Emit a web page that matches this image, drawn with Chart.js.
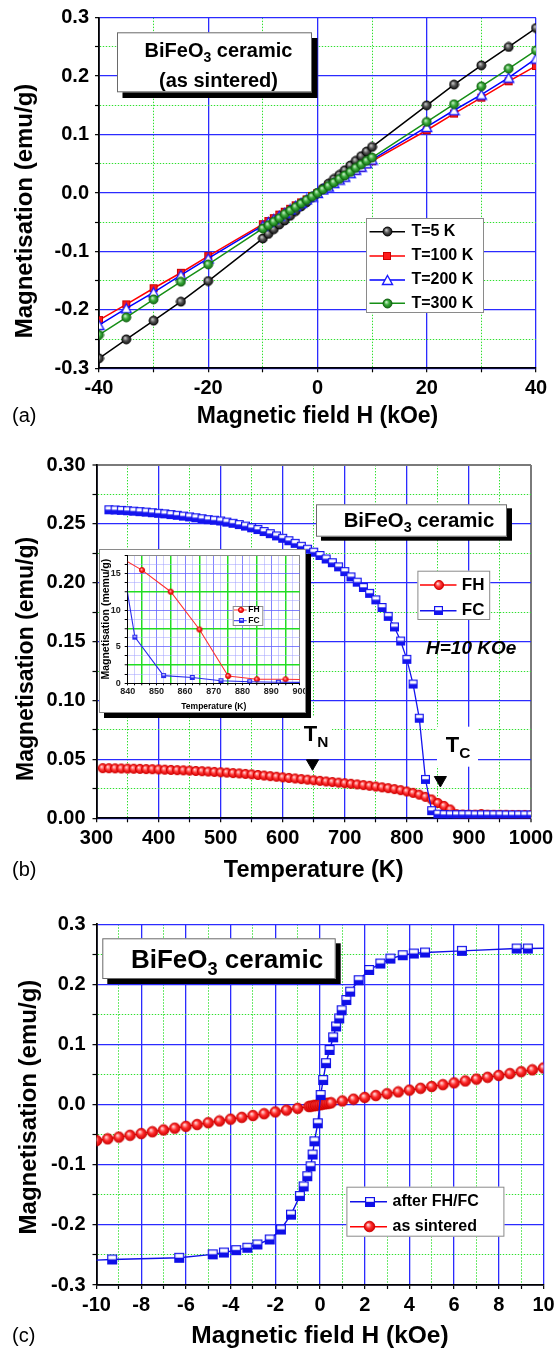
<!DOCTYPE html>
<html><head><meta charset="utf-8"><title>BiFeO3 magnetisation</title>
<script src="https://cdn.jsdelivr.net/npm/chart.js@4.4.1/dist/chart.umd.min.js"></script>
<style>
html,body{margin:0;padding:0;background:#fff;}
#page{position:relative;width:557px;height:1352px;overflow:hidden;background:#fff;}
#page canvas{position:absolute;left:0;}
#inset{position:absolute;left:99px;top:549px;width:207px;height:164px;background:#fff;border:1px solid #8a8a8a;box-sizing:border-box;box-shadow:5px 5px 0 #000;}
#inset canvas{position:absolute;left:0;top:0;}
</style></head><body>
<div id="page">
 <canvas id="chartA" width="557" height="450" style="top:0px"></canvas>
 <canvas id="chartB" width="557" height="450" style="top:450px"></canvas>
 <canvas id="chartC" width="557" height="452" style="top:900px"></canvas>
 <div id="inset"><canvas id="chartI" width="205" height="162"></canvas></div>
</div>
<script>
// ===================== DATA =====================
// Panel (a): M(H) of as-sintered ceramic at four temperatures
const fieldA = [-40,-35,-30,-25,-20,-10,-9,-8,-7,-6,-5,-4,-3,-2,-1,0,1,2,3,4,5,6,7,8,9,10,20,25,30,35,40];
const magA_5K   = [-0.283,-0.2504,-0.2185,-0.186,-0.1507,-0.0778,-0.070,-0.062,-0.054,-0.047,-0.039,-0.031,-0.023,-0.016,-0.008,0.000,0.008,0.016,0.024,0.031,0.039,0.047,0.055,0.063,0.071,0.0789,0.150,0.1855,0.2185,0.2499,0.2823];
const magA_100K = [-0.2174,-0.1906,-0.163,-0.1365,-0.108,-0.0533,-0.048,-0.043,-0.037,-0.032,-0.027,-0.021,-0.016,-0.011,-0.005,0.000,0.005,0.011,0.016,0.022,0.027,0.033,0.038,0.043,0.049,0.0544,0.1074,0.1359,0.1632,0.1912,0.2174];
const magA_200K = [-0.226,-0.1974,-0.170,-0.1404,-0.112,-0.0560,-0.050,-0.045,-0.039,-0.034,-0.028,-0.022,-0.017,-0.011,-0.006,0.000,0.006,0.011,0.017,0.023,0.028,0.034,0.040,0.045,0.051,0.0573,0.113,0.1416,0.1684,0.1974,0.230];
const magA_300K = [-0.243,-0.2128,-0.182,-0.1518,-0.1222,-0.0607,-0.055,-0.049,-0.043,-0.036,-0.030,-0.024,-0.018,-0.012,-0.006,0.000,0.006,0.012,0.018,0.024,0.030,0.036,0.043,0.049,0.055,0.0607,0.1217,0.1519,0.1826,0.2128,0.244];
const seriesA = ['T=5 K','T=100 K','T=200 K','T=300 K'];

// Panel (b): M(T) at H = 10 kOe
const tempFC = [320,330,340,350,360,370,380,390,400,410,420,430,440,450,460,470,480,490,500,510,520,530,540,550,560,570,580,590,600,610,620,630,640,650,660,670,680,690,700,710,720,730,740,750,760,770,780,790,800,810,820,830,840,850,860,870,880,890,900,910,920,930,940,950,960,970,980,990,1000];
const magFC = [0.2620,0.2618,0.2615,0.2612,0.2608,0.2604,0.2600,0.2595,0.2590,0.2585,0.2579,0.2573,0.2566,0.2559,0.2552,0.2544,0.2536,0.2531,0.2525,0.2515,0.2505,0.2494,0.2481,0.2467,0.2452,0.2435,0.2417,0.2398,
  0.2378,0.2357,0.2335,0.2310,0.2285,0.2260,0.2232,0.2202,0.2170,0.2135,0.2095,0.2050,0.2005,0.1960,0.1910,0.1855,0.1790,0.1715,0.1625,0.1505,0.1350,0.1140,0.0850,0.0330,0.0065,
  0.0035,0.0031,0.0030,0.0030,0.0030,0.0030,0.0029,0.0029,0.0029,0.0029,0.0029,0.0028,0.0028,0.0028,0.0028,0.0028];
const tempFH = [310,320,330,340,350,360,370,380,390,400,410,420,430,440,450,460,470,480,490,500,510,520,530,540,550,560,570,580,590,600,610,620,630,640,650,660,670,680,690,700,710,720,730,740,750,760,770,780,790,800,810,820,830,840,850,860,870,880,890,900,910,920,930,940,950,960,970,980,990,1000];
const magFH = [0.0426,0.0425,0.0424,0.0423,0.0422,0.0421,0.0420,0.0418,0.0417,0.0415,
  0.0413,0.0411,0.0409,0.0407,0.0405,0.0402,0.0400,0.0397,0.0394,0.0391,
  0.0388,0.0384,0.0381,0.0377,0.0373,0.0368,0.0363,0.0358,0.0353,0.0348,
  0.0343,0.0338,0.0333,0.0328,0.0323,0.0318,0.0313,0.0308,0.0303,0.0298,
  0.0293,0.0288,0.0282,0.0276,0.0270,0.0263,0.0256,0.0248,0.0239,0.0228,
  0.0216,0.0201,0.0182,0.0160,0.0130,0.0105,0.0075,
  0.0035,0.0032,0.0031,0.0031,0.0036,0.0031,0.0030,0.0030,0.0030,0.0029,0.0029,0.0029,0.0028];
const markTemp = [648, 854];          // T_N and T_C arrows
const markMag  = [0.0467, 0.0325];

// Inset of (b): magnetisation in memu/g near T_C
const insetTempFH = [835,845,855,865,875,885,895,905];
const insetFH     = [17.7,15.45,12.5,7.35,1.0,0.55,0.55,0.5];
const insetTempFC = [832.5,842.5,852.5,862.5,872.5,882.5,892.5,902.5];
const insetFC     = [29.9,6.3,1.05,0.8,0.35,0.22,0.15,0.12];

// Panel (c): M(H) after FH/FC and as sintered
const fieldLoop = [-11,-9.3,-6.3,-4.8,-4.3,-3.75,-3.25,-2.8,-2.25,-1.75,-1.3,-0.9,-0.73,-0.57,-0.42,-0.33,-0.25,-0.1,0.03,0.14,0.27,0.43,0.59,0.72,0.86,0.97,1.18,1.35,1.73,2.2,2.7,3.15,3.7,4.2,4.7,6.35,8.8,9.3,11];
const magLoop   = [-0.2600,-0.2575,-0.2547,-0.249,-0.246,-0.242,-0.238,-0.2326,-0.2243,-0.2077,-0.183,-0.152,-0.136,-0.119,-0.1025,-0.083,-0.061,-0.031,0.016,0.041,0.069,0.091,0.112,0.130,0.1435,0.157,0.174,0.188,0.207,0.224,0.2347,0.243,0.2486,0.2514,0.253,0.2558,0.2597,0.2597,0.2605];
const fieldSint = [-10,-9.5,-9,-8.5,-8,-7.5,-7,-6.5,-6,-5.5,-5,-4.5,-4,-3.5,-3,-2.5,-2,-1.5,-1,-0.5,-0.4,-0.3,-0.2,-0.1,0,0.1,0.2,0.3,0.4,0.5,1,1.5,2,2.5,3,3.5,4,4.5,5,5.5,6,6.5,7,7.5,8,8.5,9,9.5,10];
const magSint   = [-0.0598,-0.0569,-0.0540,-0.0510,-0.0481,-0.0451,-0.0421,-0.0391,-0.0361,-0.0331,-0.0301,-0.0271,-0.0241,-0.0211,-0.0181,-0.0151,-0.0121,-0.0091,-0.0061,-0.0031,
  -0.0025,-0.0019,-0.0013,-0.0007,0.0000,0.0007,0.0013,0.0019,0.0025,
  0.0031,0.0061,0.0091,0.0121,0.0152,0.0182,0.0212,0.0242,0.0272,0.0302,0.0333,0.0363,0.0394,0.0425,0.0455,0.0486,0.0517,0.0548,0.0579,0.0610];

// Tick labels
const ticksAx = [-40,-20,0,20,40];
const ticksAy = [-0.3,-0.2,-0.1,0,0.1,0.2,0.3];
const ticksBx = [300,400,500,600,700,800,900,1000];
const ticksBy = [0,0.05,0.10,0.15,0.20,0.25,0.30];
const ticksCx = [-10,-8,-6,-4,-2,0,2,4,6,8,10];
const ticksCy = [-0.3,-0.2,-0.1,0,0.1,0.2,0.3];
const ticksIx = [840,850,860,870,880,890,900];
const ticksIy = [0,5,10,15];

// ===================== HELPERS =====================
const FONT = '"Liberation Sans", Arial, Helvetica, sans-serif';
const BLUE = '#2b2bff', GREEN = '#2fe02f';
Chart.defaults.font.family = FONT;
Chart.defaults.color = '#000';

const near = (a, b) => Math.abs(a - b) < 1e-7;
const inList = (l, v) => l.some(t => near(t, v));
const pts = (xs, ys) => xs.map((x, i) => ({x, y: ys[i]}));

function cv(w, h) { const c = document.createElement('canvas'); c.width = w; c.height = h; return c; }
function ball(r, light, base, dark, stroke) {
  const s = Math.ceil(2 * r) + 2, c = cv(s, s), g = c.getContext('2d'), m = s / 2;
  const gr = g.createRadialGradient(m - r * 0.3, m - r * 0.35, r * 0.05, m, m, r);
  gr.addColorStop(0, light); gr.addColorStop(0.5, base); gr.addColorStop(1, dark);
  g.fillStyle = gr; g.beginPath(); g.arc(m, m, r, 0, Math.PI * 2); g.fill();
  if (stroke) { g.strokeStyle = stroke; g.lineWidth = 0.9; g.stroke(); }
  return c;
}
function halfSquare(sz, color) {
  const c = cv(sz + 2, sz + 2), g = c.getContext('2d');
  g.fillStyle = '#fff'; g.fillRect(1, 1, sz, sz);
  g.fillStyle = color; g.fillRect(1, 1 + sz * 0.48, sz, sz * 0.52);
  g.strokeStyle = color; g.lineWidth = 1.2; g.strokeRect(1.6, 1.6, sz - 1.2, sz - 1.2);
  return c;
}
function filledSquare(sz, fill, stroke) {
  const c = cv(sz + 2, sz + 2), g = c.getContext('2d');
  g.fillStyle = fill; g.fillRect(1, 1, sz, sz);
  g.strokeStyle = stroke; g.lineWidth = 1; g.strokeRect(1.5, 1.5, sz - 1, sz - 1);
  return c;
}
function openTriangle(w, h, color) {
  const c = cv(w + 2, h + 2), g = c.getContext('2d');
  g.beginPath(); g.moveTo(1 + w / 2, 1.5); g.lineTo(w + 0.5, h + 0.5); g.lineTo(1.5, h + 0.5); g.closePath();
  g.fillStyle = '#fff'; g.fill(); g.strokeStyle = color; g.lineWidth = 1.4; g.stroke();
  return c;
}

const imgBlack = ball(4.5, '#cfcfcf', '#555', '#111', '#000');
const imgRedSq = filledSquare(8, '#ff1a1a', '#cc0000');
const imgTri   = openTriangle(11, 10, '#1a1aff');
const imgGreen = ball(4.5, '#d0f2d0', '#3aaa3a', '#146d14', '#0d5d0d');
const imgRedB  = ball(4.6, '#ffe0e0', '#ff3a3a', '#d80000', '#d00000');
const imgFCb   = halfSquare(9, '#1414ee');
const imgRedC  = ball(5.3, '#ffe4e4', '#ff2e2e', '#d00000', '#cc0000');
const imgFCc   = halfSquare(10, '#1010e8');
const imgRedI  = ball(2.6, '#ffd8d8', '#ff3030', '#dd0000', '#dd0000');
const imgFCi   = halfSquare(5, '#2a2aee');

function series(xs, ys, color, img, lw, order) {
  return { data: pts(xs, ys), showLine: true, borderColor: color, backgroundColor: color, borderWidth: lw,
    pointStyle: img, pointRadius: img.width / 2, pointHoverRadius: img.width / 2, tension: 0, fill: false, order };
}

function axis(o) {
  const major = v => inList(o.labels, v);
  const isEdge = v => o.edgeColor && near(v, o.max);
  return {
    type: 'linear', position: o.position, min: o.min, max: o.max,
    afterFit: s => { if (o.position === 'left') s.width = o.size; else s.height = o.size;
      s.paddingLeft = 0; s.paddingRight = 0; s.paddingTop = 0; s.paddingBottom = 0; },
    ticks: { stepSize: o.step, autoSkip: false, maxRotation: 0, minRotation: 0, padding: o.tickPad,
      color: o.tickColor || '#000', font: { family: FONT, size: o.tickSize, weight: 'bold' },
      callback: v => major(v) ? o.fmt(v) : '' },
    grid: {
      color: c => { if (!c.tick) return BLUE; const v = c.tick.value; if (isEdge(v)) return o.edgeColor; return o.colorFn ? o.colorFn(v) : (major(v) ? BLUE : GREEN); },
      lineWidth: c => { if (!c.tick) return 1; const v = c.tick.value; if (isEdge(v)) return o.edgeWidth || 2; return o.widthFn ? o.widthFn(v) : (major(v) ? 1.3 : 1); },
      drawTicks: true, tickLength: o.tl, tickColor: '#000', tickWidth: o.tickWidth || 1.2
    },
    border: { display: true, color: '#000', width: o.borderWidth || 1.8,
      dash: c => (o.dotted !== false && c.tick && !major(c.tick.value) && !isEdge(c.tick.value)) ? [1.4, 1.6] : [] },
    title: { display: true, text: o.title, color: '#000', padding: o.titlePad,
      font: { family: FONT, size: o.titleSize, weight: 'bold' } }
  };
}

function richText(ctx, parts, x, y, size, align, style) {
  const f = s => `${style || 'bold'} ${s}px ${FONT}`;
  let w = 0;
  const ws = parts.map(([t, sub]) => { ctx.font = f(sub ? size * 0.7 : size); const m = ctx.measureText(t).width; w += m; return m; });
  let cx = align === 'center' ? x - w / 2 : x;
  ctx.textAlign = 'left'; ctx.textBaseline = 'alphabetic'; ctx.fillStyle = '#000';
  parts.forEach(([t, sub], i) => { ctx.font = f(sub ? size * 0.7 : size); ctx.fillText(t, cx, y + (sub ? size * 0.28 : 0)); cx += ws[i]; });
}
function titleBox(ctx, x, y, w, h, dx, dy) {
  ctx.fillStyle = '#000'; ctx.fillRect(x + dx, y + dy, w, h);
  ctx.fillStyle = '#fff'; ctx.fillRect(x, y, w, h);
  ctx.strokeStyle = '#6a6a6a'; ctx.lineWidth = 1; ctx.strokeRect(x + 0.5, y + 0.5, w - 1, h - 1);
}
function legendBox(ctx, box, entries, o) {
  ctx.fillStyle = '#fff'; ctx.fillRect(box[0], box[1], box[2], box[3]);
  ctx.strokeStyle = '#8a8a8a'; ctx.lineWidth = 1; ctx.strokeRect(box[0] + 0.5, box[1] + 0.5, box[2] - 1, box[3] - 1);
  entries.forEach(e => {
    ctx.strokeStyle = e.color; ctx.lineWidth = o.lw; ctx.beginPath(); ctx.moveTo(o.x1, e.y); ctx.lineTo(o.x2, e.y); ctx.stroke();
    ctx.drawImage(e.img, Math.round(o.mx - e.img.width / 2), Math.round(e.y - e.img.height / 2));
    ctx.fillStyle = '#000'; ctx.font = `bold ${o.size}px ${FONT}`; ctx.textAlign = 'left'; ctx.textBaseline = 'middle';
    ctx.fillText(e.label, o.tx, e.y);
  });
}
function panelLabel(ctx, t, x, y) {
  ctx.fillStyle = '#000'; ctx.font = `20px ${FONT}`; ctx.textAlign = 'left'; ctx.textBaseline = 'middle'; ctx.fillText(t, x, y);
}
const baseOpts = (pad, scales, plugins) => ({
  type: 'scatter',
  options: { responsive: false, maintainAspectRatio: false, animation: false, devicePixelRatio: 1, events: [],
    layout: { padding: pad }, scales,
    plugins: { legend: { display: false }, tooltip: { enabled: false } } },
  plugins
});

// ===================== PANEL (a) =====================
const decorA = { id: 'decorA', afterDraw(chart) {
  const ctx = chart.ctx; ctx.save();
  titleBox(ctx, 117, 32.3, 195, 60, 5.5, 5.7);
  richText(ctx, [['BiFeO', 0], ['3', 1], [' ceramic', 0]], 218.5, 56.5, 20, 'center');
  richText(ctx, [['(as sintered)', 0]], 218.5, 86.6, 20, 'center');
  legendBox(ctx, [366, 218, 118, 95], [
    { y: 231.7, label: seriesA[0], color: '#000', img: imgBlack },
    { y: 256,   label: seriesA[1], color: '#ff0000', img: imgRedSq },
    { y: 280,   label: seriesA[2], color: '#0000ff', img: imgTri },
    { y: 303.3, label: seriesA[3], color: '#168f16', img: imgGreen }
  ], { x1: 369.5, x2: 405, mx: 387, tx: 411.4, size: 16, lw: 1.6 });
  panelLabel(ctx, '(a)', 12, 416.7);
  ctx.restore();
}};
const cfgA = baseOpts({ left: 0, right: 21, top: 17.7, bottom: 0 }, {
  x: axis({ position: 'bottom', min: -40, max: 40, step: 10, labels: ticksAx, fmt: v => String(v), size: 81.7,
    tickPad: 4, tl: 4, tickSize: 20, title: 'Magnetic field H (kOe)', titleSize: 23, titlePad: { top: 0, bottom: 19.5 } }),
  y: axis({ position: 'left', min: -0.3, max: 0.3, step: 0.05, labels: ticksAy, fmt: v => v.toFixed(1), size: 99,
    tickPad: 6, tl: 4, tickSize: 20, title: 'Magnetisation (emu/g)\u2003\u2002', titleSize: 24, titlePad: { top: 11.3, bottom: 0 } })
}, [decorA]);
cfgA.data = { datasets: [
  Object.assign(series(fieldA, magA_5K,   '#000000', imgBlack, 1.5, 3), { label: seriesA[0] }),
  Object.assign(series(fieldA, magA_100K, '#ff0000', imgRedSq, 1.5, 2), { label: seriesA[1] }),
  Object.assign(series(fieldA, magA_200K, '#0000ff', imgTri,   1.5, 1), { label: seriesA[2] }),
  Object.assign(series(fieldA, magA_300K, '#168f16', imgGreen, 1.5, 0), { label: seriesA[3] })
]};
new Chart(document.getElementById('chartA'), cfgA);

// ===================== PANEL (b) =====================
const decorB = { id: 'decorB',
  beforeDatasetsDraw(chart) {
    const ctx = chart.ctx; ctx.save(); ctx.fillStyle = '#fff';
    ctx.fillRect(300, 266.7, 32, 41.6);
    ctx.fillRect(437, 276.7, 41, 40);
    ctx.restore();
  },
  afterDraw(chart) {
    const ctx = chart.ctx; ctx.save();
    titleBox(ctx, 316, 54.3, 191, 32.4, 5, 4);
    richText(ctx, [['BiFeO', 0], ['3', 1], [' ceramic', 0]], 419, 76.6, 20.4, 'center');
    legendBox(ctx, [417.4, 120.7, 72.8, 49.3], [
      { y: 135,   label: 'FH', color: '#ff0000', img: imgRedB },
      { y: 160.7, label: 'FC', color: '#1414ee', img: imgFCb }
    ], { x1: 420, x2: 456.5, mx: 438.7, tx: 461.8, size: 17, lw: 1.6 });
    richText(ctx, [['H=10 KOe', 0]], 426, 203.5, 19, 'left', 'italic bold');
    richText(ctx, [['T', 0], ['N', 1]], 303.7, 290.8, 22, 'left');
    richText(ctx, [['T', 0], ['C', 1]], 445.8, 301.8, 22, 'left');
    panelLabel(ctx, '(b)', 12, 420.7);
    ctx.restore();
  }};
const cfgB = baseOpts({ left: 0, right: 26, top: 15, bottom: 0 }, {
  x: axis({ position: 'bottom', min: 300, max: 1000, step: 50, labels: ticksBx, fmt: v => String(v), size: 81.7,
    tickPad: 4, tl: 4, tickSize: 20, edgeColor: '#7a7a7a', title: 'Temperature (K)', titleSize: 23.5, titlePad: { top: 0, bottom: 15.2 } }),
  y: axis({ position: 'left', min: 0, max: 0.30, step: 0.025, labels: ticksBy, fmt: v => v.toFixed(2), size: 96.5,
    tickPad: 7, tl: 4, tickSize: 20, edgeColor: '#7a7a7a', title: 'Magnetisation (emu/g)\u2003\u2002', titleSize: 23, titlePad: { top: 12.9, bottom: 0 } })
}, [decorB]);
cfgB.data = { datasets: [
  Object.assign(series(tempFC, magFC, '#1414ee', imgFCb, 1.3, 1), { label: 'FC' }),
  Object.assign(series(tempFH, magFH, '#ff0000', imgRedB, 1.1, 2), { label: 'FH' }),
  { label: 'T_N / T_C', data: pts(markTemp, markMag), showLine: false, pointStyle: 'triangle', pointRotation: 180,
    pointRadius: 7, pointBackgroundColor: '#000', pointBorderColor: '#000', pointBorderWidth: 1, order: 0 }
]};
new Chart(document.getElementById('chartB'), cfgB);

// ===================== INSET of (b) =====================
const decorI = { id: 'decorI', afterDraw(chart) {
  const ctx = chart.ctx; ctx.save();
  legendBox(ctx, [132.7, 56, 30.6, 20], [
    { y: 60,   label: 'FH', color: '#ff3030', img: imgRedI },
    { y: 70.7, label: 'FC', color: '#2a2aee', img: imgFCi }
  ], { x1: 134, x2: 146.7, mx: 141, tx: 148.3, size: 8.5, lw: 1 });
  ctx.restore();
}};
const insetColX = v => (near(v % 10, 5)) ? '#22dd22' : (near(v % 10, 0) ? 'rgba(100,100,255,0.8)' : 'rgba(160,160,255,0.5)');
const insetWX = v => (near(v % 10, 5)) ? 1.5 : 1;
const insetColY = v => (near(v % 5, 2.5)) ? '#22dd22' : (near(v % 5, 0) ? 'rgba(100,100,255,0.8)' : 'rgba(160,160,255,0.5)');
const insetWY = v => (near(v % 5, 2.5)) ? 1.5 : 1;
const cfgI = baseOpts({ left: 0, right: 5, top: 3.3, bottom: 0 }, {
  x: axis({ position: 'bottom', min: 840, max: 900, step: 2.5, labels: ticksIx, fmt: v => String(v), size: 28.7,
    tickPad: 1, tl: 2, tickSize: 9, tickColor: '#222', edgeColor: '#8a8a8a', edgeWidth: 1, borderWidth: 1, tickWidth: 1,
    colorFn: insetColX, widthFn: insetWX, dotted: false,
    title: 'Temperature (K)', titleSize: 8.5, titlePad: { top: 0, bottom: 0.2 } }),
  y: axis({ position: 'left', min: 0, max: 17.5, step: 1.25, labels: ticksIy, fmt: v => String(v), size: 27.7,
    tickPad: 4, tl: 3, tickSize: 9, tickColor: '#222', edgeColor: '#8a8a8a', edgeWidth: 1, borderWidth: 1, tickWidth: 1,
    colorFn: insetColY, widthFn: insetWY, dotted: false,
    title: 'Magnetisation (memu/g)', titleSize: 10.5, titlePad: { top: 0, bottom: 0 } })
}, [decorI]);
cfgI.data = { datasets: [
  Object.assign(series(insetTempFH, insetFH, '#ff3030', imgRedI, 1.1, 1), { label: 'FH' }),
  Object.assign(series(insetTempFC, insetFC, '#2a2aee', imgFCi, 1.1, 0), { label: 'FC' })
]};
new Chart(document.getElementById('chartI'), cfgI);

// ===================== PANEL (c) =====================
const decorC = { id: 'decorC', afterDraw(chart) {
  const ctx = chart.ctx; ctx.save();
  titleBox(ctx, 102.3, 38.3, 233.4, 40.7, 5, 5);
  richText(ctx, [['BiFeO', 0], ['3', 1], [' ceramic', 0]], 227, 67.6, 26, 'center');
  legendBox(ctx, [346.4, 286.7, 158, 50], [
    { y: 301.7, label: 'after FH/FC', color: '#1010e8', img: imgFCc },
    { y: 326.7, label: 'as sintered', color: '#ff0000', img: imgRedC }
  ], { x1: 350, x2: 387, mx: 369.5, tx: 392.5, size: 16, lw: 1.6 });
  panelLabel(ctx, '(c)', 12, 436.7);
  ctx.restore();
}};
const cfgC = baseOpts({ left: 0, right: 13.5, top: 24.3, bottom: 0 }, {
  x: axis({ position: 'bottom', min: -10, max: 10, step: 1, labels: ticksCx, fmt: v => String(v), size: 67,
    tickPad: 4, tl: 4, tickSize: 20, title: 'Magnetic field H (kOe)', titleSize: 24.5, titlePad: { top: 0, bottom: 0.6 } }),
  y: axis({ position: 'left', min: -0.3, max: 0.3, step: 0.05, labels: ticksCy, fmt: v => v.toFixed(1), size: 96.5,
    tickPad: 7, tl: 4, tickSize: 20, title: 'Magnetisation (emu/g)\u2009', titleSize: 24, titlePad: { top: 14.9, bottom: 0 } })
}, [decorC]);
cfgC.data = { datasets: [
  Object.assign(series(fieldLoop, magLoop, '#1010e8', imgFCc, 1.4, 0), { label: 'after FH/FC' }),
  Object.assign(series(fieldSint, magSint, '#ff0000', imgRedC, 1.2, 1), { label: 'as sintered' })
]};
new Chart(document.getElementById('chartC'), cfgC);
</script>
</body></html>
